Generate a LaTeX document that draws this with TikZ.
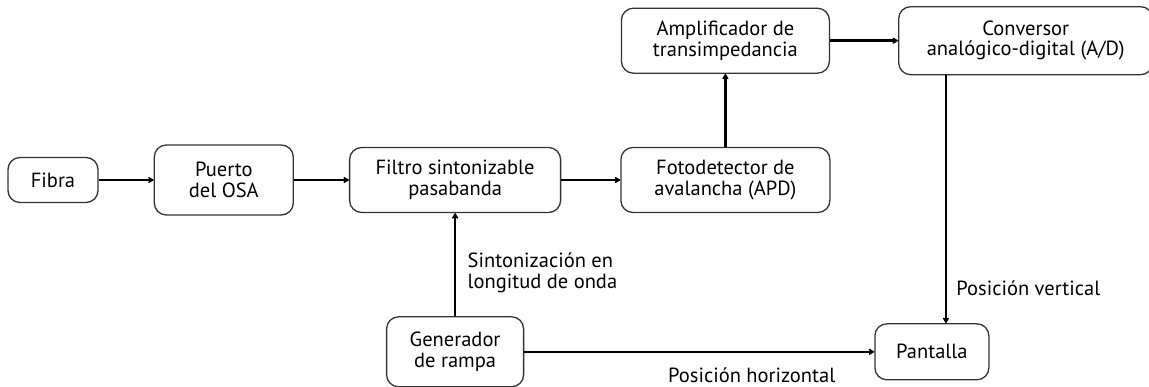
\documentclass[tikz,border=0pt]{standalone}
\usepackage{fontspec}
\setmainfont{PT Sans}
\usetikzlibrary{positioning, arrows.meta}

\begin{document}
\begin{tikzpicture}[x=1pt, y=1pt, font=\fontsize{20.5}{20.5}\selectfont,
	blk/.style={draw=black!80, line width=1.3pt, rounded corners=12pt, align=center, inner sep=0pt},
	arr/.style={line width=2.5pt, -{Stealth[length=7pt, width=8pt, round]}}]
	\useasboundingbox (0,0) rectangle (1149,387);
	\node[blk, minimum width=90, minimum height=45] (fibra) at (53,207) {Fibra};
	\node[blk, minimum width=139, minimum height=70] (puerto) [right=55pt of fibra] {Puerto\\del OSA};
	\node[blk, minimum width=211, minimum height=65] (filtro) [right=55pt of puerto] {Filtro sintonizable\\pasabanda};
	\node[blk, minimum width=209, minimum height=65] (foto) [right=59pt of filtro] {Fotodetector de\\avalancha (APD)};
	\node[blk, minimum width=208, minimum height=65] (amp) [above=73pt of foto] {Amplificador de\\transimpedancia};
	\node[blk, minimum width=254, minimum height=68] (conv) [right=68pt of amp] {Conversor\\anal\'ogico-digital (A/D)};
	\node[blk, minimum width=137, minimum height=70] (gen) [below=103pt of filtro] {Generador\\de rampa};
	\node[blk, minimum width=114, minimum height=56] (pant) [right=350pt of gen] {Pantalla};
	\coordinate (vx) at ([xshift=14pt]pant.north);
	\path[arr]
	(fibra) edge (puerto)
	(puerto) edge (filtro)
	(filtro) edge (foto)
	(foto) edge (amp)
	(amp) edge (conv)
	(gen) edge node[pos=0.42, right, align=left, xshift=8pt] {Sintonizaci\'on en\\longitud de onda} (filtro)
	(vx |- conv.south) edge node[pos=0.86, right, xshift=6pt] {Posici\'on vertical} (vx)
	(gen) edge node[pos=0.65, below, yshift=-11pt] {Posici\'on horizontal} (pant)
	;
\end{tikzpicture}
\end{document}
